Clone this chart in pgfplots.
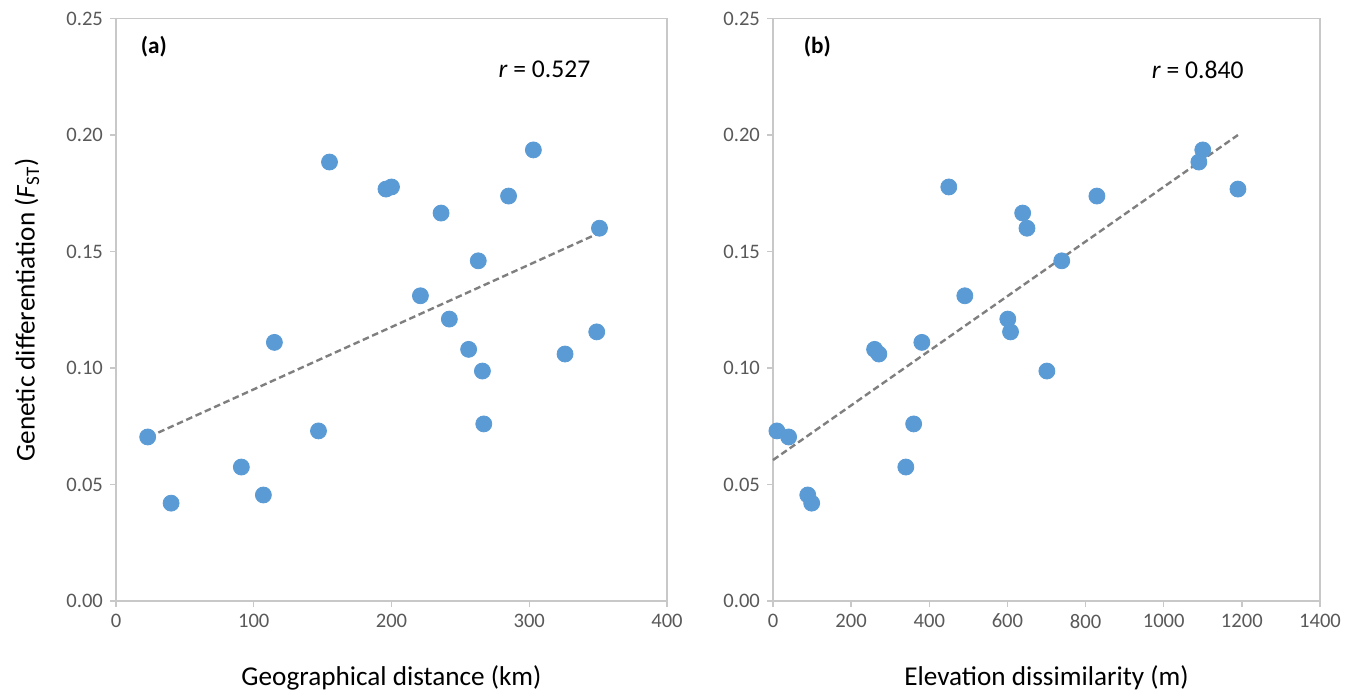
\documentclass[border=0pt]{standalone}
\usepackage{fontspec}
\setmainfont{Carlito}
\usepackage{pgfplots}
\pgfplotsset{compat=1.18}

\definecolor{dotblue}{HTML}{5B9BD5}
\definecolor{trendgray}{HTML}{7F7F7F}
\definecolor{ticktext}{HTML}{595959}
\definecolor{framegray}{HTML}{C8C8C8}

\pgfplotsset{
  fstpanel/.style={
    scale only axis,
    height=291.25pt,
    ymin=0, ymax=0.25,
    ytick={0,0.05,0.10,0.15,0.20,0.25},
    xtick pos=lower, ytick pos=left,
    tick align=outside,
    major tick length=3pt,
    axis line style={framegray, line width=0.7pt},
    every tick/.style={framegray, line width=0.7pt},
    tick label style={font=\fontsize{10.3}{12}\selectfont, color=ticktext},
    /pgf/number format/assume math mode=true,
    /pgf/number format/1000 sep={},
    yticklabel style={/pgf/number format/.cd, fixed, fixed zerofill, precision=2},
    xlabel style={font=\fontsize{13.6}{16}\selectfont, at={(axis description cs:0.5,-0.132)}, anchor=center},
    clip=false,
  },
  dots/.style={only marks, mark=*, mark size=4pt, mark options={fill=dotblue, draw=dotblue}},
  trend/.style={trendgray, line width=1.2pt, dash pattern=on 3.3pt off 1.8pt},
}

\begin{document}
\begin{tikzpicture}
\useasboundingbox (-58pt,-46pt) rectangle (620.5pt,300.5pt);

% (a) geographical distance
\begin{axis}[fstpanel, width=275.5pt,
  xmin=0, xmax=400, xtick={0,100,200,300,400},
  xlabel={Geographical distance (km)},
  ylabel={Genetic differentiation (\textit{F}\textsubscript{ST})},
  ylabel style={font=\fontsize{13.6}{16}\selectfont, at={(axis description cs:-0.1615,0.5)}, anchor=center}]
\addplot[dots] coordinates {
  (23,0.0704) (40,0.042) (91,0.0575) (107,0.0455) (115,0.111)
  (147,0.073) (155,0.1884) (196,0.1768) (200,0.1777) (221,0.131)
  (236,0.1665) (242,0.121) (256,0.108) (263,0.146) (266,0.0987)
  (267,0.076) (285,0.1738) (303,0.1936) (326,0.106) (349,0.1155)
  (351,0.160)};
\addplot[trend] coordinates {(24,0.0705) (351,0.158)};
\node[anchor=west, font=\fontsize{11.6}{14}\selectfont\bfseries] at (axis cs:13,0.2378) {(a)};
\node[font=\fontsize{12.8}{15}\selectfont] at (axis cs:311,0.228) {\textit{r} = 0.527};
\end{axis}

% (b) elevation dissimilarity
\begin{axis}[fstpanel, width=273.5pt, xshift=328.5pt,
  xmin=0, xmax=1400, xtick={0,200,400,600,800,1000,1200,1400},
  xlabel={Elevation dissimilarity (m)}]
\addplot[dots] coordinates {
  (10,0.073) (40,0.0704) (89,0.0455) (99,0.042) (260,0.108)
  (271,0.106) (340,0.0575) (360,0.076) (381,0.111) (450,0.1777)
  (491,0.131) (601,0.121) (608,0.1155) (639,0.1665) (650,0.160)
  (739,0.146) (701,0.0987) (829,0.1738) (1090,0.1884) (1100,0.1936)
  (1190,0.1768)};
\addplot[trend] coordinates {(0,0.0605) (1190,0.200)};
\node[anchor=west, font=\fontsize{11.6}{14}\selectfont\bfseries] at (axis cs:61,0.2378) {(b)};
\node[font=\fontsize{12.8}{15}\selectfont] at (axis cs:1087,0.228) {\textit{r} = 0.840};
\end{axis}
\end{tikzpicture}
\end{document}
